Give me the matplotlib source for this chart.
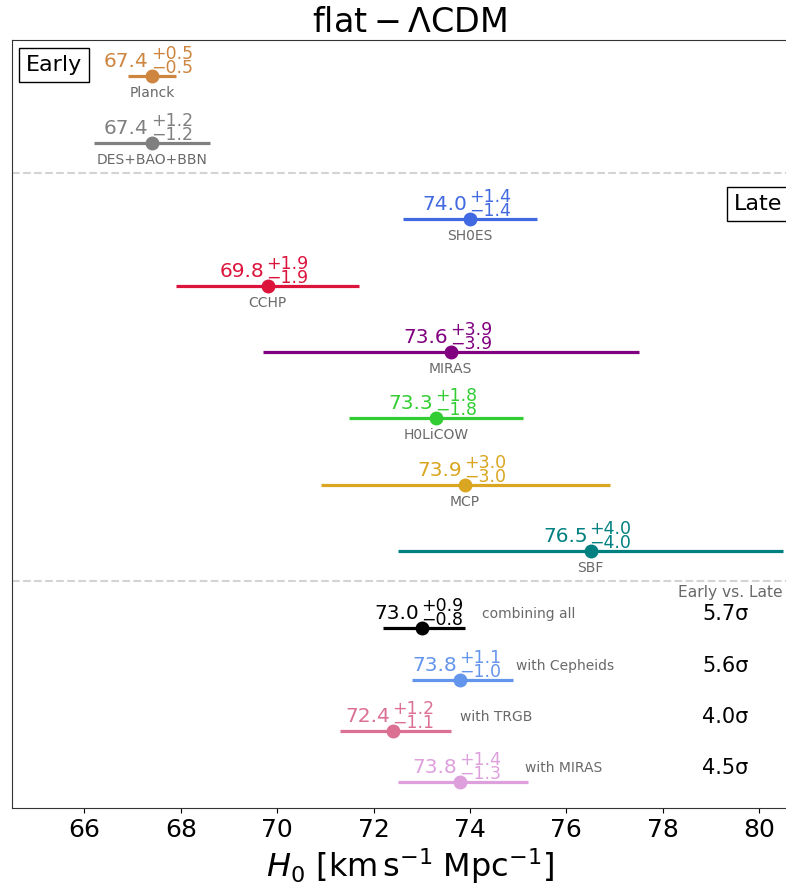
import matplotlib
matplotlib.use("Agg")
import matplotlib.pyplot as plt
import numpy as np

# single measurements (early + late)
names = ["Planck", "DES+BAO+BBN", "SH0ES", "CCHP", "MIRAS", "H0LiCOW", "MCP", "SBF"]
h0 = [67.4, 67.4, 74.0, 69.8, 73.6, 73.3, 73.9, 76.5]
err_up = [0.5, 1.2, 1.4, 1.9, 3.9, 1.8, 3.0, 4.0]
err_lo = [0.5, 1.2, 1.4, 1.9, 3.9, 1.8, 3.0, 4.0]
colors = ["peru", "gray", "royalblue", "crimson", "purple", "limegreen", "goldenrod", "teal"]

# combined late-universe values
comb_names = ["combining all", "with Cepheids", "with TRGB", "with MIRAS"]
comb_h0 = [73.0, 73.8, 72.4, 73.8]
comb_up = [0.9, 1.1, 1.2, 1.4]
comb_lo = [0.8, 1.0, 1.1, 1.3]
comb_sigma = [5.7, 5.6, 4.0, 4.5]
comb_colors = ["black", "cornflowerblue", "palevioletred", "plum"]

# layout (vertical positions in axes pixel-like units, top = 0)
rows_y = [36, 103, 179, 246, 312, 378, 445, 511]
comb_y = [588, 640, 691, 742]
label_x = [74.25, 74.95, 73.8, 75.15]
sep_y = [133, 541]

PX = 0.72  # points per pixel at dpi 100


def value_label(ax, x, y, up, lo, color):
    # main value left of the point, stacked +/- errors right of it
    ax.annotate(f"{x:.1f}", (x, y), xytext=(-3 * PX, 9 * PX), textcoords="offset points",
                ha="right", va="baseline", fontsize=14.5, color=color)
    ax.annotate(f"+{up:.1f}\n\u2212{lo:.1f}", (x, y), xytext=(-1 * PX, -1 * PX),
                textcoords="offset points", ha="left", va="bottom",
                fontsize=12.5, color=color, linespacing=0.74)


fig = plt.figure(figsize=(7.86, 8.86), dpi=100)
ax = fig.add_axes([0.0153, 0.088, 1.012, 0.867])

for i in range(len(names)):
    ax.errorbar(h0[i], rows_y[i], xerr=[[err_lo[i]], [err_up[i]]], fmt="o",
                color=colors[i], ms=9, elinewidth=2.3, capsize=0)
    value_label(ax, h0[i], rows_y[i], err_up[i], err_lo[i], colors[i])
    ax.annotate(names[i], (h0[i], rows_y[i]), xytext=(0, -7),
                textcoords="offset points", ha="center", va="top",
                fontsize=10, color="dimgray")

for i in range(len(comb_names)):
    ax.errorbar(comb_h0[i], comb_y[i], xerr=[[comb_lo[i]], [comb_up[i]]], fmt="o",
                color=comb_colors[i], ms=9, elinewidth=2.3, capsize=0)
    value_label(ax, comb_h0[i], comb_y[i], comb_up[i], comb_lo[i], comb_colors[i])
    ax.text(label_x[i], comb_y[i] - 14, comb_names[i], ha="left", va="center",
            fontsize=10, color="dimgray")
    ax.text(79.3, comb_y[i] - 14, f"{comb_sigma[i]:.1f}\u03c3", ha="center",
            va="center", fontsize=15, color="black")

ax.text(79.4, 553, "Early vs. Late", ha="center", va="center", fontsize=11.2,
        color="dimgray")

for y in sep_y:
    ax.axhline(y, color="lightgray", ls="--", lw=1.5)

fig.text(26 / 786, 1 - 65 / 886, "Early", ha="left", va="center",
         fontsize=16, bbox=dict(facecolor="white", edgecolor="black", pad=5))
ax.text(79.47, 164, "Late", ha="left", va="center", fontsize=16,
        bbox=dict(facecolor="white", edgecolor="black", pad=5))

ax.set_xlim(64.5, 81.0)
ax.set_ylim(768, 0)
ax.set_yticks([])
ax.set_xticks(np.arange(66, 81, 2))
ax.tick_params(axis="x", labelsize=18)
for s in ax.spines.values():
    s.set_color("#333333")
ax.spines["right"].set_visible(False)
ax.set_title(r"$\mathrm{flat} - \Lambda\mathrm{CDM}$", fontsize=24)
ax.set_xlabel(r"$H_0\ [\mathrm{km\,s^{-1}\;Mpc^{-1}}]$", fontsize=23, labelpad=3)

fig.savefig("out.png", dpi=100)
